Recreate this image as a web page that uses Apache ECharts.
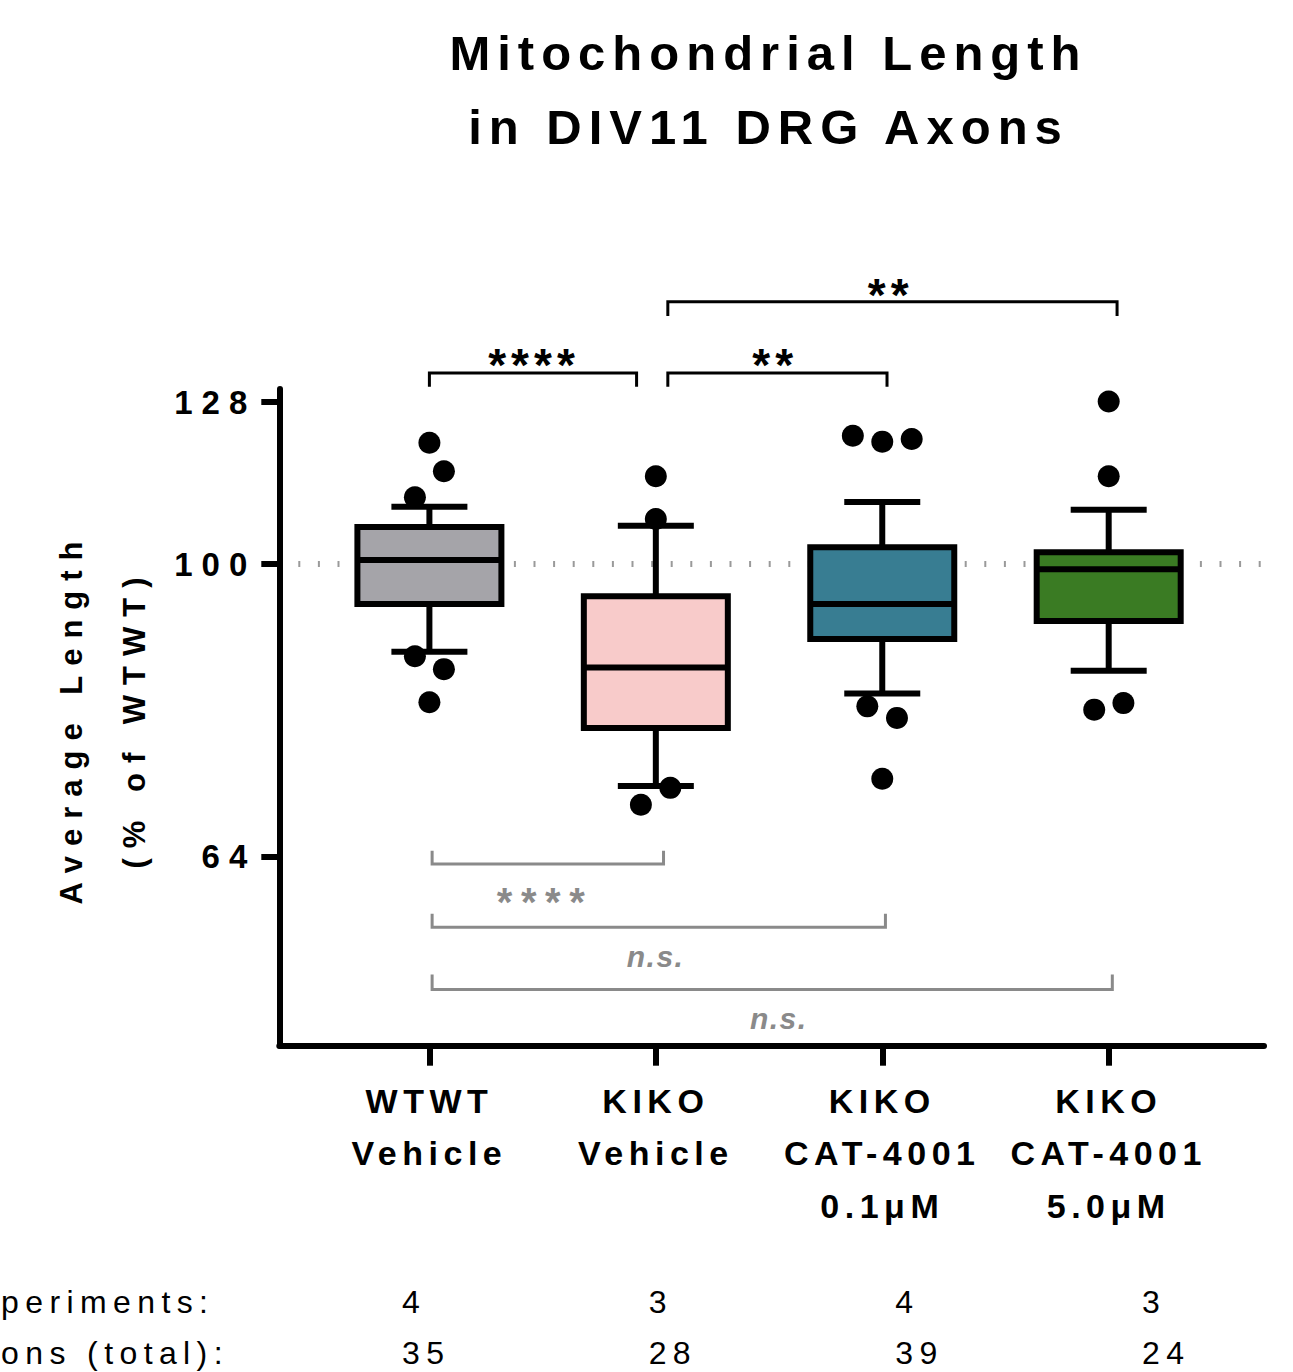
<!DOCTYPE html>
<html>
<head>
<meta charset="utf-8">
<title>Mitochondrial Length in DIV11 DRG Axons</title>
<script src="https://cdn.jsdelivr.net/npm/echarts@6.0.0/dist/echarts.min.js"></script>
<style>
  html, body { margin: 0; padding: 0; background: #fff; }
  #chart { width: 1293px; height: 1372px; }
</style>
</head>
<body>
<div id="chart"></div>
<script>
// ---------------- data ----------------
const categories = ['WTWT\nVehicle', 'KIKO\nVehicle', 'KIKO\nCAT-4001\n0.1μM', 'KIKO\nCAT-4001\n5.0μM'];
const whiskerLow  = [87.5, 71.3, 82.1, 85.0];
const quartile1   = [94.1, 77.9, 89.2, 91.7];
const median      = [100.6, 85.4, 94.1, 99.2];
const quartile3   = [105.8, 95.2, 102.6, 101.8];
const whiskerHigh = [109.1, 106.0, 109.9, 108.6];
const outliers = [
  [120.3, 115.2, 110.7, 86.9, 85.2, 81.0],
  [114.3, 107.1, 71.1, 69.3],
  [121.6, 120.5, 121.0, 80.5, 79.1, 72.1],
  [128.1, 114.3, 80.1, 80.9]
];
const outlierJitter = [
  [0, 0.064, -0.064, -0.064, 0.064, 0],
  [0, 0, 0.064, -0.066],
  [-0.13, 0, 0.13, -0.066, 0.065, 0],
  [0, 0, -0.064, 0.065]
];
const yTicks = [64, 100, 128];
const referenceValue = 100;
const experiments = [4, 3, 4, 3];
const axonsTotal = [35, 28, 39, 24];
// row headers as visible in the reference (cut at the left edge there)
const rowHeaders = ['periments:', 'ons (total):'];
// comparisons: [groupA, groupB, label]
const comparisons = [
  [0, 1, '****'], [1, 2, '**'], [1, 3, '**'],
  [0, 1, '****'], [0, 2, 'n.s.'], [0, 3, 'n.s.']
];

// ---------------- layout / style (not data) ----------------
const FONT = "'Liberation Sans', Arial, Helvetica, sans-serif";
const boxColors = ['#a5a4a9', '#f8cbca', '#387d92', '#3a7b23'];
const bracketLayout = [
  { nudge: [0, -0.085],    bar: 133.8, tick: 131.0, labelX: 0.462, labelY: 137.3, dark: true },
  { nudge: [0.053, 0.021], bar: 133.8, tick: 131.0, labelX: 1.527, labelY: 137.3, dark: true },
  { nudge: [0.053, 0.037], bar: 149.1, tick: 145.9, labelX: 2.037, labelY: 152.8, dark: true },
  { nudge: [0.012, 0.034], bar: 63.3,  tick: 64.6,  labelX: 0.511, labelY: 60.5,  dark: false },
  { nudge: [0.012, 0.014], bar: 57.5,  tick: 58.7,  labelX: 0.999, labelY: 54.8,  dark: false },
  { nudge: [0.012, 0.016], bar: 52.3,  tick: 53.5,  labelX: 1.543, labelY: 49.8,  dark: false }
];
const SPACING = { 49: 7, 31: 10, 33: 9, 34: 5.5, 32: 6.4, 46: 5, 40: 8.6, 30: 1.5 };

const L = v => Math.log2(v);
const X_MIN = -0.6629, X_MAX = 3.6859;

const boxData = categories.map((c, i) => [i, L(whiskerLow[i]), L(quartile1[i]), L(median[i]), L(quartile3[i]), L(whiskerHigh[i])]);
const pointData = [];
outliers.forEach((arr, i) => arr.forEach((v, k) => pointData.push([i + outlierJitter[i][k], L(v)])));
const bracketData = comparisons.map((c, k) => {
  const b = bracketLayout[k];
  return [c[0] + b.nudge[0], c[1] + b.nudge[1], L(b.bar), L(b.tick), b.labelX, L(b.labelY)];
});

const dom = document.getElementById('chart');
const chart = echarts.init(dom, null, { renderer: 'svg', width: 1293, height: 1372 });

const option = {
  animation: false,
  backgroundColor: '#fff',
  title: {
    text: 'Mitochondrial Length\nin DIV11 DRG Axons',
    left: 768.5, top: 16, padding: 0,
    textAlign: 'center',
    textStyle: { fontSize: 49, fontWeight: 'bold', fontFamily: FONT, color: '#000', lineHeight: 74 }
  },
  grid: [
    { left: 279.3, right: 29, top: 389, bottom: 326.3, containLabel: false, outerBoundsMode: 'none' },
    { left: 402, right: 151, top: 1240, height: 10, containLabel: false, outerBoundsMode: 'none' }
  ],
  xAxis: [
    {
      gridIndex: 0, type: 'value', min: X_MIN, max: X_MAX,
      splitLine: { show: false },
      axisLine: { show: true, onZero: false, lineStyle: { color: '#000', width: 6 } },
      axisTick: { show: true, customValues: [0, 1, 2, 3], length: 20, lineStyle: { color: '#000', width: 6 } },
      axisLabel: {
        show: true, customValues: [0, 1, 2, 3],
        formatter: v => categories[Math.round(v)],
        fontSize: 34, fontWeight: 'bold', fontFamily: FONT, color: '#000',
        lineHeight: 52.5, margin: 29, align: 'center', verticalAlign: 'top'
      }
    },
    {
      gridIndex: 1, type: 'value', min: 0, max: 3,
      splitLine: { show: false }, axisLine: { show: false }, axisTick: { show: false },
      axisLabel: {
        show: true, customValues: [0, 1, 2, 3],
        formatter: v => experiments[Math.round(v)] + '\n' + axonsTotal[Math.round(v)],
        fontSize: 32, fontFamily: FONT, color: '#000',
        lineHeight: 51.3, margin: 26, align: 'left', verticalAlign: 'top'
      }
    }
  ],
  yAxis: [
    {
      gridIndex: 0, type: 'value', min: L(48), max: 7.0286,
      splitLine: { show: false },
      axisLine: { show: true, onZero: false, lineStyle: { color: '#000', width: 6 } },
      axisTick: { show: true, customValues: yTicks.map(L), length: 18, lineStyle: { color: '#000', width: 6 } },
      axisLabel: {
        show: true, customValues: yTicks.map(L),
        formatter: v => String(Math.round(Math.pow(2, v))),
        fontSize: 33, fontWeight: 'bold', fontFamily: FONT, color: '#000',
        margin: 23, padding: [9, 0, 0, 0]
      }
    },
    { gridIndex: 1, type: 'value', show: false, min: 0, max: 1 }
  ],
  graphic: [
    {
      type: 'text', x: 102.5, y: 718, rotation: Math.PI / 2, silent: true,
      style: {
        text: 'Average Length\n(% of WTWT)', fontSize: 31, fontWeight: 'bold', fontFamily: FONT,
        fill: '#000', align: 'center', verticalAlign: 'middle', lineHeight: 63
      }
    },
    {
      type: 'text', x: 1, y: 1276, silent: true,
      style: {
        text: rowHeaders.join('\n'), fontSize: 32, fontFamily: FONT,
        fill: '#000', align: 'left', verticalAlign: 'top', lineHeight: 51.3
      }
    }
  ],
  series: [
    {
      name: 'reference', type: 'line', xAxisIndex: 0, yAxisIndex: 0, z: 1, silent: true,
      symbol: 'none',
      data: [[-0.579, L(referenceValue)], [X_MAX, L(referenceValue)]],
      lineStyle: { color: '#9a9a9a', width: 6, type: [2, 17.6] }
    },
    {
      name: 'boxes', type: 'custom', xAxisIndex: 0, yAxisIndex: 0, z: 2, silent: true, clip: false,
      encode: { x: 0, y: [1, 2, 3, 4, 5] },
      data: boxData,
      renderItem: function (params, api) {
        const i = api.value(0);
        const pMin = api.coord([i, api.value(1)]);
        const pQ1 = api.coord([i, api.value(2)]);
        const pMed = api.coord([i, api.value(3)]);
        const pQ3 = api.coord([i, api.value(4)]);
        const pMax = api.coord([i, api.value(5)]);
        const cx = pMed[0], lw = 6, half = 72, cap = 38;
        const st = { stroke: '#000', lineWidth: lw, fill: null };
        return {
          type: 'group',
          children: [
            { type: 'line', shape: { x1: cx, y1: pMax[1], x2: cx, y2: pQ3[1] }, style: st },
            { type: 'line', shape: { x1: cx, y1: pQ1[1], x2: cx, y2: pMin[1] }, style: st },
            { type: 'line', shape: { x1: cx - cap, y1: pMax[1], x2: cx + cap, y2: pMax[1] }, style: st },
            { type: 'line', shape: { x1: cx - cap, y1: pMin[1], x2: cx + cap, y2: pMin[1] }, style: st },
            { type: 'rect', shape: { x: cx - half, y: pQ3[1], width: 2 * half, height: pQ1[1] - pQ3[1] },
              style: { fill: boxColors[params.dataIndex], stroke: '#000', lineWidth: lw } },
            { type: 'line', shape: { x1: cx - half, y1: pMed[1], x2: cx + half, y2: pMed[1] }, style: st }
          ]
        };
      }
    },
    {
      name: 'brackets', type: 'custom', xAxisIndex: 0, yAxisIndex: 0, z: 2, silent: true, clip: false,
      encode: { x: [0, 1, 4], y: [2, 3, 5] },
      data: bracketData,
      renderItem: function (params, api) {
        const k = params.dataIndex;
        const b = bracketLayout[k];
        const label = comparisons[k][2];
        const a = api.coord([api.value(0), api.value(2)]);
        const c = api.coord([api.value(1), api.value(2)]);
        const ta = api.coord([api.value(0), api.value(3)]);
        const lp = api.coord([api.value(4), api.value(5)]);
        const color = b.dark ? '#000' : '#8a8a8a';
        const isStar = label.indexOf('*') >= 0;
        const fs = isStar ? (b.dark ? 46 : 40) : 30;
        const dy = isStar ? 0.205 * fs : -0.087 * fs;
        return {
          type: 'group',
          children: [
            { type: 'polyline',
              shape: { points: [[a[0], ta[1]], [a[0], a[1]], [c[0], c[1]], [c[0], ta[1]]] },
              style: { stroke: color, lineWidth: 3, fill: null } },
            { type: 'text', x: lp[0], y: lp[1] + dy,
              style: { text: label, fontSize: fs, fontWeight: 'bold', fontStyle: isStar ? 'normal' : 'italic',
                       fontFamily: FONT, fill: color, align: 'center', verticalAlign: 'middle' } }
          ]
        };
      }
    },
    {
      name: 'points', type: 'scatter', xAxisIndex: 0, yAxisIndex: 0, z: 3, silent: true,
      symbol: 'circle', symbolSize: 22,
      itemStyle: { color: '#000', opacity: 1, borderWidth: 0 },
      data: pointData
    }
  ]
};

chart.setOption(option);

function applySpacing() {
  dom.querySelectorAll('text').forEach(t => {
    const fs = Math.round(parseFloat(getComputedStyle(t).fontSize));
    if (SPACING[fs] != null) {
      t.setAttribute('letter-spacing', SPACING[fs]);
      t.style.letterSpacing = SPACING[fs] + 'px';
    }
  });
}
chart.on('finished', applySpacing);
applySpacing();
setTimeout(applySpacing, 0);
setTimeout(applySpacing, 100);
</script>
</body>
</html>
